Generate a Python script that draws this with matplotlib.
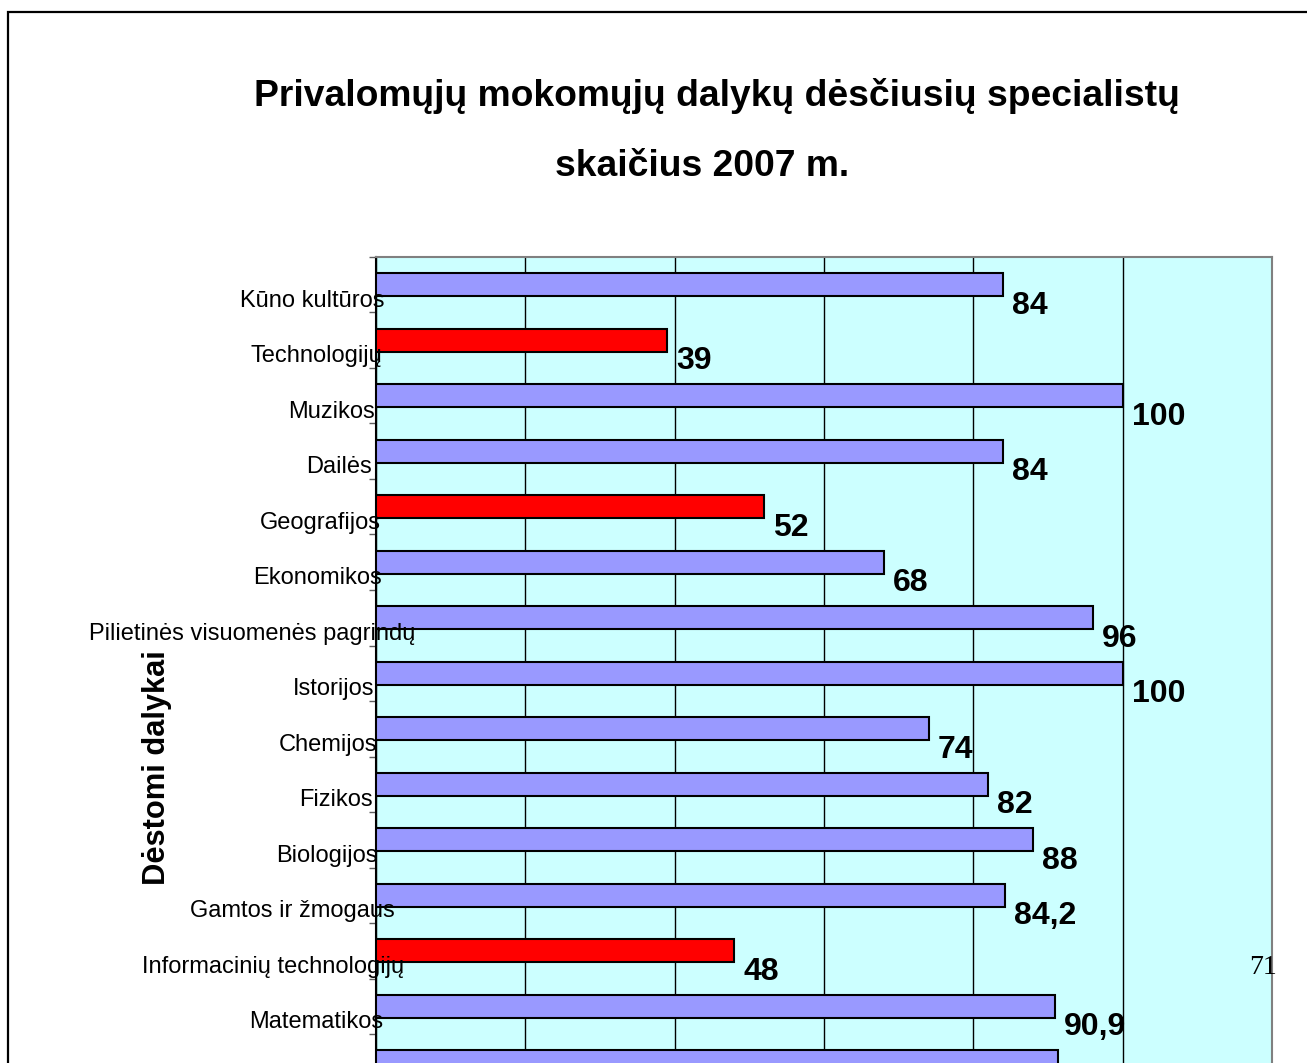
import matplotlib.pyplot as plt
from matplotlib.patches import Rectangle
from matplotlib.transforms import blended_transform_factory

plt.rcParams["font.family"] = ["Liberation Sans", "DejaVu Sans"]

# subjects, top to bottom (last one is cut off in the original)
subjects = [
    "Kūno kultūros",
    "Technologijų",
    "Muzikos",
    "Dailės",
    "Geografijos",
    "Ekonomikos",
    "Pilietinės visuomenės pagrindų",
    "Istorijos",
    "Chemijos",
    "Fizikos",
    "Biologijos",
    "Gamtos ir žmogaus",
    "Informacinių technologijų",
    "Matematikos",
    "Lietuvių kalbos",
]
percent = [84, 39, 100, 84, 52, 68, 96, 100, 74, 82, 88, 84.2, 48, 90.9, 91.4]
value_labels = ["84", "39", "100", "84", "52", "68", "96", "100", "74", "82",
                "88", "84,2", "48", "90,9", "91,4"]
low_share = [False, True, False, False, True, False, False, False, False,
             False, False, False, True, False, False]
shown_rows = 14  # the last row's texts fall below the page edge

W, H = 1307, 1063
fig = plt.figure(figsize=(W / 100, H / 100), dpi=100)

# slide frame
fig.patches.append(Rectangle((8 / W, -0.05), 1.1, 1 - 12 / H + 0.05,
                             transform=fig.transFigure, fill=False,
                             edgecolor="black", lw=1.6))

slot = 55.5
n = len(subjects)
ax = fig.add_axes([376 / W, 1 - (257 + n * slot) / H, 896 / W, n * slot / H])
ax.set_facecolor("#CCFFFF")

colors = ["#FF0000" if low else "#9999FF" for low in low_share]
ypos = list(range(n))
ax.barh(ypos, percent, height=0.42, color=colors, edgecolor="black",
        linewidth=1.5, zorder=3)

ax.set_xlim(0, 120)
ax.set_ylim(n - 0.5, -0.5)
ax.set_xticks(range(0, 121, 20))
ax.xaxis.grid(True, color="black", linewidth=1, zorder=1)
ax.set_axisbelow(True)
ax.tick_params(axis="x", bottom=False, labelbottom=False)
ax.set_yticks([i - 0.5 for i in range(n + 1)])
ax.set_yticklabels([])
ax.tick_params(axis="y", length=5, width=1, color="#606060")
for side in ["top", "right"]:
    ax.spines[side].set_color("#808080")
    ax.spines[side].set_linewidth(1.5)
ax.spines["left"].set_color("black")
ax.spines["left"].set_linewidth(1.5)

# value labels, below-right of each bar end
for y, v, lab in list(zip(ypos, percent, value_labels))[:shown_rows]:
    ax.annotate(lab, xy=(v, y), xytext=(6.5, -21), textcoords="offset points",
                ha="left", va="baseline", fontsize=23, fontweight="bold",
                zorder=5)

# category labels
trans = blended_transform_factory(ax.transAxes, ax.transData)
anchor = (360.5 - 376) / 896
labels = []
for y, name in list(zip(ypos, subjects))[:shown_rows]:
    t = ax.text(anchor, y + 22 / slot, name, transform=trans, ha="left",
                va="baseline", fontsize=17, clip_on=False, zorder=6)
    labels.append(t)

fig.canvas.draw()
renderer = fig.canvas.get_renderer()
for t in labels:
    w = t.get_window_extent(renderer).width
    t.set_x(anchor - (w / 1.2) / 896)

fig.text(717 / W, 1 - 96 / H, "Privalomųjų mokomųjų dalykų dėsčiusių specialistų",
         ha="center", va="center", fontsize=26.8, fontweight="bold")
fig.text(702 / W, 1 - 166 / H, "skaičius 2007 m.",
         ha="center", va="center", fontsize=26.8, fontweight="bold")

fig.text(157 / W, 1 - 768 / H, "Dėstomi dalykai", rotation=90,
         ha="center", va="center", fontsize=22.2, fontweight="bold")

fig.text(1263 / W, 1 - 968 / H, "71", ha="center", va="center", fontsize=20,
         family=["Liberation Serif", "DejaVu Serif"])

fig.savefig("out.png", dpi=100)
